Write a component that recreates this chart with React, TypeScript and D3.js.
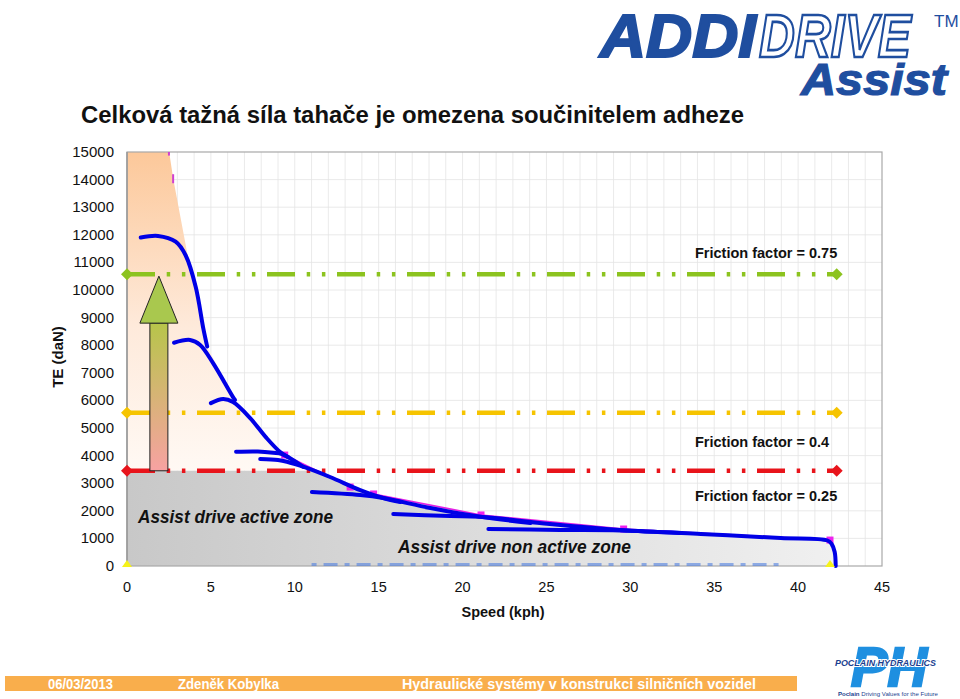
import React from 'react';
import * as d3 from 'd3';

const W = 960;
const H = 699;
const plot = { left: 127, right: 882, top: 152, bottom: 566 };
const FONT = 'Liberation Sans, Arial, Helvetica, sans-serif';

// axis ticks
const speedTicks = [0, 5, 10, 15, 20, 25, 30, 35, 40, 45];
const teTicks = [0, 1000, 2000, 3000, 4000, 5000, 6000, 7000, 8000, 9000, 10000, 11000, 12000, 13000, 14000, 15000];

// friction limits (TE in daN)
const frictionLabels = ['Friction factor = 0.75', 'Friction factor = 0.4', 'Friction factor = 0.25'];
const frictionTE = [10575, 5550, 3450];
const frictionColors = ['#8cc31f', '#f6c400', '#e8141b'];
const frictionEnd = 42.3;

// max tractive effort envelope (magenta)
const envelopeSpeed = [2.5, 2.75, 3.6, 4.8, 6.45, 9.4, 13.3, 14.7, 21.1, 29.6, 41.9];
const envelopeTE = [15050, 14050, 11300, 7930, 6000, 4020, 2860, 2610, 1850, 1340, 940];

// gear curves [speed kph, TE daN]
const gear1 = [[0.82, 11900], [1.85, 11960], [2.9, 11750], [3.5, 11250], [4.1, 10100], [4.55, 8600], [4.78, 7950]];
const gear2 = [[2.8, 8090], [3.76, 8190], [4.36, 8010], [5.13, 7350], [6.32, 6120], [6.44, 6015]];
const gear3 = [[5.0, 5900], [5.73, 6050], [6.32, 5940], [7.34, 5360], [8.3, 4650], [9.13, 4130], [9.6, 3950]];
const gear4 = [[6.5, 4140], [7.8, 4150], [8.71, 4105], [9.23, 4058], [10.5, 3590]];
const gear5 = [[7.94, 3877], [9.0, 3840], [9.53, 3779], [10.5, 3598], [12.1, 3225], [13.9, 2750], [15.27, 2464], [16.3, 2320]];
const gear6 = [[11.02, 2681], [13.9, 2572], [15.27, 2464], [18.08, 2100], [21.06, 1786], [24.05, 1558]];
const gear7 = [[15.87, 1884], [19.27, 1812], [21.06, 1786], [25.2, 1520], [29.4, 1304], [33.0, 1196]];
const gear8 = [[21.54, 1340], [25.8, 1304], [29.4, 1286], [34.2, 1160], [38.96, 1014], [41.75, 924], [42.0, 797], [42.18, 507], [42.24, 0]];
const gears = [gear1, gear2, gear3, gear4, gear5, gear6, gear7, gear8];

// other marks
const zoneEndSpeed = 42.24;
const arrowSpeed = 1.9;
const baseMarkerSpeed = [0, 41.9];
const lowDashSpeed = [11, 39];

export default function App() {
  const x = d3.scaleLinear().domain([0, 45]).range([plot.left, plot.right]);
  const y = d3.scaleLinear().domain([0, 15000]).range([plot.bottom, plot.top]);

  const curve = d3
    .line<number[]>()
    .x(d => x(d[0]))
    .y(d => y(d[1]))
    .curve(d3.curveCatmullRom.alpha(0.5));

  const straight = d3
    .line<number[]>()
    .x(d => x(d[0]))
    .y(d => y(d[1]));

  const envelope = envelopeSpeed.map((s, i) => [s, envelopeTE[i]]);
  const zonePts = [[0, 15050], ...envelope, [zoneEndSpeed, 0]];
  const zoneArea = d3
    .area<number[]>()
    .x(d => x(d[0]))
    .y0(y(0))
    .y1(d => y(d[1]));

  const redY = y(frictionTE[2]);
  const lowEnvelope = envelope.filter(d => d[1] < 4100);

  // arrow geometry
  const ax = x(arrowSpeed);
  const tipY = y(frictionTE[0]) + 2;
  const headY = tipY + 47;
  const arrowHead = `M${ax},${tipY} L${ax + 19},${headY} L${ax - 19},${headY} Z`;

  const dash = '28 11.7 3.5 11.7 3.5 11.6';

  const diamond = (cx: number, cy: number, r: number) =>
    `M${cx},${cy - r} L${cx + r},${cy} L${cx},${cy + r} L${cx - r},${cy} Z`;

  return (
    <svg width={W} height={H} style={{ display: 'block', position: 'absolute', left: 0, top: 0 }} fontFamily={FONT}>
      <defs>
        <clipPath id="plotClip">
          <rect x={plot.left} y={plot.top} width={plot.right - plot.left} height={plot.bottom - plot.top} />
        </clipPath>
        <clipPath id="upperClip">
          <rect x={plot.left} y={plot.top} width={plot.right - plot.left} height={redY - plot.top} />
        </clipPath>
        <clipPath id="lowerClip">
          <rect x={plot.left} y={redY} width={plot.right - plot.left} height={plot.bottom - redY} />
        </clipPath>
        <linearGradient id="orangeGrad" gradientUnits="userSpaceOnUse" x1="0" y1={plot.top} x2="0" y2={redY}>
          <stop offset="0" stopColor="#fcc89a" />
          <stop offset="0.55" stopColor="#feeadb" />
          <stop offset="1" stopColor="#fff9f4" />
        </linearGradient>
        <linearGradient id="grayGrad" gradientUnits="userSpaceOnUse" x1={plot.left} y1="0" x2={x(zoneEndSpeed)} y2="0">
          <stop offset="0" stopColor="#c8c8c8" />
          <stop offset="1" stopColor="#f0f0f0" />
        </linearGradient>
        <linearGradient id="shaftGrad" gradientUnits="userSpaceOnUse" x1="0" y1={headY} x2="0" y2={redY}>
          <stop offset="0" stopColor="#b7c54a" />
          <stop offset="1" stopColor="#f7a2a2" />
        </linearGradient>
      </defs>

      <rect x={0} y={0} width={W} height={H} fill="#ffffff" />

      {/* logo */}
      <g fontStyle="italic" fontWeight="bold">
        <text x={600} y={57} fontSize={62} fill="#1f4e9f" stroke="#1f4e9f" strokeWidth={2.2} textLength={156} lengthAdjust="spacingAndGlyphs">ADDI</text>
        <text x={759} y={57} fontSize={62} fill="#ffffff" stroke="#1f4e9f" strokeWidth={2.6} textLength={152} lengthAdjust="spacingAndGlyphs">DRIVE</text>
        <text x={801} y={95} fontSize={44} fill="#1f4e9f" stroke="#1f4e9f" strokeWidth={1.2} textLength={146} lengthAdjust="spacingAndGlyphs">Assist</text>
      </g>
      <text x={934} y={27} fontSize={17} fill="#1f4e9f">TM</text>

      {/* title */}
      <text x={81} y={123} fontSize={23} fontWeight="bold" fill="#111" textLength={663} lengthAdjust="spacingAndGlyphs">
        Celková tažná síla tahače je omezena součinitelem adheze
      </text>

      {/* grid */}
      <g stroke="#e4e4e4" strokeWidth={0.8}>
        {d3.range(1, 45).map(s => (
          <line key={'v' + s} x1={x(s)} x2={x(s)} y1={plot.top} y2={plot.bottom} />
        ))}
        {teTicks.slice(1, -1).map(t => (
          <line key={'h' + t} x1={plot.left} x2={plot.right} y1={y(t)} y2={y(t)} />
        ))}
      </g>

      {/* zones */}
      <g clipPath="url(#plotClip)">
        <path d={zoneArea(zonePts) || ''} fill="url(#orangeGrad)" clipPath="url(#upperClip)" />
      </g>
      <path d={zoneArea(zonePts) || ''} fill="url(#grayGrad)" clipPath="url(#lowerClip)" />

      {/* plot frame */}
      <rect x={plot.left} y={plot.top} width={plot.right - plot.left} height={plot.bottom - plot.top} fill="none" stroke="#a8a8a8" strokeWidth={1.2} />
      <line x1={plot.left} x2={plot.left} y1={plot.top} y2={plot.bottom} stroke="#999" strokeWidth={1.5} />

      {/* low dashed line */}
      <path
        d={straight(lowDashSpeed.map(s => [s, 0])) || ''}
        transform="translate(0,-1.5)"
        stroke="#4f7fe0"
        strokeOpacity={0.6}
        strokeWidth={3}
        strokeDasharray="5 7 14 7"
        fill="none"
      />

      {/* friction lines */}
      {frictionTE.map((te, i) => (
        <g key={'f' + i}>
          <line x1={x(0)} x2={x(frictionEnd)} y1={y(te)} y2={y(te)} stroke={frictionColors[i]} strokeWidth={4.5} strokeDasharray={dash} />
          <path d={diamond(x(0), y(te), 6)} fill={frictionColors[i]} />
          <path d={diamond(x(frictionEnd), y(te), 6)} fill={frictionColors[i]} />
        </g>
      ))}

      {/* envelope */}
      <path d={straight(lowEnvelope) || ''} stroke="#e51fe5" strokeWidth={1.6} fill="none" />
      <g clipPath="url(#plotClip)">
        {envelope.map((d, i) =>
          d[1] < 4100 ? (
            <rect key={'m' + i} x={x(d[0]) - 3.5} y={y(d[1]) - 3.5} width={7} height={7} fill="#ee22ee" />
          ) : d[1] > 13000 ? (
            <rect key={'m' + i} x={x(d[0]) - 1} y={y(d[1]) - 4} width={2} height={9} fill="#d040d0" />
          ) : null
        )}
      </g>

      {/* gear curves */}
      {gears.map((g, i) => (
        <path key={'g' + i} d={curve(g) || ''} stroke="#0000e6" strokeWidth={4} fill="none" strokeLinecap="round" strokeLinejoin="round" />
      ))}

      {/* base markers */}
      {baseMarkerSpeed.map(s => (
        <path key={'t' + s} d={`M${x(s)},${y(0) - 6} L${x(s) + 5},${y(0) + 1} L${x(s) - 5},${y(0) + 1} Z`} fill="#f5f21a" />
      ))}

      {/* arrow */}
      <rect x={ax - 9} y={headY} width={18} height={redY - headY} fill="url(#shaftGrad)" stroke="#222" strokeWidth={1} />
      <path d={arrowHead} fill="#a9c84e" stroke="#222" strokeWidth={1} />

      {/* axis labels */}
      <g fontSize={15} fill="#111" textAnchor="end">
        {teTicks.map(t => (
          <text key={'yl' + t} x={114} y={y(t) + 5}>{t}</text>
        ))}
      </g>
      <g fontSize={14.5} fill="#111" textAnchor="middle">
        {speedTicks.map(s => (
          <text key={'xl' + s} x={x(s)} y={592}>{s}</text>
        ))}
      </g>
      <text x={503} y={617} fontSize={14.5} fontWeight="bold" textAnchor="middle" fill="#111">Speed (kph)</text>
      <text transform="translate(63,357) rotate(-90)" fontSize={15} fontWeight="bold" textAnchor="middle" fill="#111">TE (daN)</text>

      {/* annotations */}
      <g fontSize={14.5} fontWeight="bold" fill="#111">
        <text x={695} y={258}>{frictionLabels[0]}</text>
        <text x={695} y={447}>{frictionLabels[1]}</text>
        <text x={695} y={501}>{frictionLabels[2]}</text>
      </g>
      <g fontSize={17.5} fontWeight="bold" fontStyle="italic" fill="#111">
        <text x={138} y={523} textLength={195} lengthAdjust="spacingAndGlyphs">Assist drive active zone</text>
        <text x={398} y={553} textLength={233} lengthAdjust="spacingAndGlyphs">Assist drive non active zone</text>
      </g>

      {/* footer */}
      <rect x={5} y={676} width={792} height={15} fill="#f9ae4c" />
      <g fill="#ffffff" fontSize={14} fontWeight="bold" fontFamily="Liberation Sans Narrow, Arial Narrow, Liberation Sans, Arial, sans-serif">
        <text x={48} y={689} textLength={65} lengthAdjust="spacingAndGlyphs">06/03/2013</text>
        <text x={178} y={689} textLength={101} lengthAdjust="spacingAndGlyphs">Zdeněk Kobylka</text>
        <text x={402} y={689} textLength={354} lengthAdjust="spacingAndGlyphs">Hydraulické systémy v konstrukci silničních vozidel</text>
      </g>

      {/* PH logo */}
      <text x={851} y={686} fontSize={56} fontWeight="bold" fontStyle="italic" fill="#1e8fe0" stroke="#1e8fe0" strokeWidth={2.5} textLength={76} lengthAdjust="spacingAndGlyphs">PH</text>
      <text x={835} y={666} fontSize={8.5} fontWeight="bold" fontStyle="italic" fill="#1b3f8f" stroke="#ffffff" strokeWidth={2} paintOrder="stroke" textLength={101} lengthAdjust="spacingAndGlyphs">POCLAIN HYDRAULICS</text>
      <text x={838} y={696} fontSize={5.5} fill="#1b3f8f" textLength={100} lengthAdjust="spacingAndGlyphs">
        <tspan fontWeight="bold">Poclain</tspan> Driving Values for the Future
      </text>
    </svg>
  );
}
